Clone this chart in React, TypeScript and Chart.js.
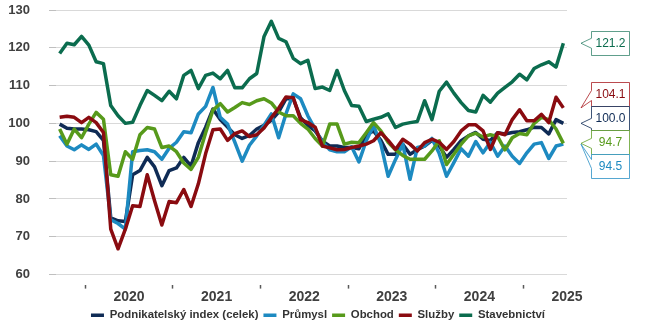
import { useEffect, useRef } from 'react';
import { Chart, registerables } from 'chart.js';

Chart.register(...registerables);

const months = [
  '2019-09', '2019-10', '2019-11', '2019-12',
  '2020-01', '2020-02', '2020-03', '2020-04', '2020-05', '2020-06', '2020-07', '2020-08', '2020-09', '2020-10', '2020-11', '2020-12',
  '2021-01', '2021-02', '2021-03', '2021-04', '2021-05', '2021-06', '2021-07', '2021-08', '2021-09', '2021-10', '2021-11', '2021-12',
  '2022-01', '2022-02', '2022-03', '2022-04', '2022-05', '2022-06', '2022-07', '2022-08', '2022-09', '2022-10', '2022-11', '2022-12',
  '2023-01', '2023-02', '2023-03', '2023-04', '2023-05', '2023-06', '2023-07', '2023-08', '2023-09', '2023-10', '2023-11', '2023-12',
  '2024-01', '2024-02', '2024-03', '2024-04', '2024-05', '2024-06', '2024-07', '2024-08', '2024-09', '2024-10', '2024-11', '2024-12',
  '2025-01', '2025-02', '2025-03', '2025-04', '2025-05', '2025-06',
];

const yearLabels = ['2020', '2021', '2022', '2023', '2024', '2025'];
const yTickValues = [60, 70, 80, 90, 100, 110, 120, 130];

const podnikatelsky = [
  99.8, 98.7, 98.5, 98.5,
  98.3, 97.8, 95.5, 75.0, 74.2, 74.0, 86.4, 87.5, 91.0, 88.5, 83.5, 87.5,
  88.2, 91.0, 88.7, 94.9, 99.0, 103.8, 101.0, 99.0, 97.0, 96.0, 96.8, 98.5,
  99.5, 100.8, 103.0, 106.5, 106.5, 101.5, 99.5, 98.0, 95.3, 94.0, 94.0, 93.6,
  93.6, 93.3, 97.0, 98.0, 95.5, 91.8, 91.8, 94.5, 91.8, 93.0, 94.0, 95.5,
  94.0, 91.0, 93.1, 95.4, 96.7, 97.6, 95.8, 95.5, 97.5, 97.2, 97.6, 97.8,
  98.3, 99.0, 98.9, 97.2, 101.0, 100.0,
];

const prumysl = [
  96.7, 94.0, 93.0, 94.3,
  93.1, 94.5, 91.5, 74.5, 73.5, 72.0, 92.5, 92.8, 93.0, 92.5, 90.5, 93.4,
  95.0, 97.8, 97.5, 102.5, 104.5, 109.5, 101.6, 99.8, 95.0, 90.0, 94.2, 96.7,
  99.5, 102.5, 96.2, 102.5, 107.8, 106.5, 102.0, 98.5, 95.0, 93.0, 92.5, 92.5,
  93.8, 89.8, 95.4, 99.4, 94.5, 86.0, 90.4, 94.5, 85.2, 93.6, 94.0, 96.0,
  92.0, 86.0, 89.6, 93.3, 91.3, 95.2, 92.2, 95.0, 91.3, 94.0, 91.3, 89.4,
  92.2, 94.5, 94.9, 90.7, 94.0, 94.5,
];

const obchod = [
  98.5, 94.5, 98.5, 96.2,
  99.8, 102.9, 101.1, 86.4, 86.0, 92.5, 90.5, 97.0, 98.9, 98.5, 93.6, 94.0,
  92.5, 89.5, 87.8, 91.0, 97.5, 103.5, 105.2, 103.0, 104.2, 105.5, 105.0, 106.0,
  106.5, 105.4, 103.0, 102.0, 102.0, 100.0, 98.5, 96.0, 94.0, 99.8, 99.8, 94.5,
  95.0, 94.9, 97.5, 100.2, 98.0, 95.0, 93.0, 91.5, 90.5, 90.5, 90.5, 92.7,
  95.4, 89.1, 91.8, 94.5, 96.7, 97.4, 96.4, 97.0, 96.5, 93.0, 96.2, 97.3,
  97.0, 100.0, 101.6, 101.0, 98.5, 94.7,
];

const sluzby = [
  101.6, 101.9, 101.6, 100.2,
  101.6, 100.2, 97.6, 72.0, 66.8, 72.0, 78.2, 78.0, 86.4, 79.5, 73.1, 79.3,
  79.0, 82.5, 78.0, 84.0, 92.0, 98.3, 98.5, 95.5, 97.3, 98.0, 96.5, 97.0,
  98.8, 101.5, 104.0, 107.0, 106.8, 101.0, 100.2, 99.0, 94.0, 93.5, 93.0, 93.1,
  93.6, 94.0, 94.5, 95.4, 97.5, 95.5, 93.1, 95.8, 94.5, 92.7, 94.9, 95.8,
  95.0, 93.1, 95.2, 98.0, 99.6, 99.6, 98.0, 93.1, 97.5, 97.0, 101.0, 103.6,
  100.7, 100.7, 102.4, 100.2, 106.9, 104.1,
];

const stavebnictvi = [
  118.5, 121.2, 120.8, 123.0,
  120.7, 116.3, 115.8, 104.7, 102.0, 100.0, 100.3, 104.7, 108.7, 107.4, 106.0, 108.5,
  106.5, 112.7, 114.0, 109.2, 112.7, 113.3, 111.8, 114.0, 109.4, 109.4, 111.8, 113.2,
  123.0, 127.0, 122.5, 121.6, 117.2, 115.8, 116.7, 109.2, 109.6, 108.7, 114.0, 108.7,
  104.7, 104.5, 100.5, 101.1, 101.6, 102.5, 98.9, 99.8, 100.2, 100.5, 106.0, 101.0,
  108.5, 110.9, 108.0, 105.5, 103.4, 103.0, 107.4, 105.6, 108.0, 109.5, 111.0, 113.0,
  111.5, 114.5, 115.5, 116.3, 114.9, 121.2,
];

const seriesNames = ['Podnikatelský index (celek)', 'Průmysl', 'Obchod', 'Služby', 'Stavebnictví'];
const seriesValues = [podnikatelsky, prumysl, obchod, sluzby, stavebnictvi];
const seriesColors = ['#0f2b55', '#1d8ac1', '#579a1b', '#8a0b10', '#0b6c4e'];
const calloutBorders = ['rgba(15,43,85,0.8)', 'rgba(29,138,193,0.75)', 'rgba(87,154,27,0.75)', 'rgba(170,30,35,0.8)', 'rgba(11,108,78,0.65)'];

const FONT = '"Liberation Sans", Arial, sans-serif';
const Y_MIN = 57.33;
const Y_MAX = 130;

const calloutPlugin = {
  id: 'lastValueCallouts',
  afterDraw(chart: any) {
    const { ctx, chartArea } = chart;
    const yScale = chart.scales.y;
    const boxW = 38;
    const boxH = 24;
    const boxL = Math.round(chartArea.right + 24) + 0.5;
    const tipX = chartArea.right + 14;
    const items = chart.data.datasets
      .map((ds: any, i: number) => {
        const v = ds.data[ds.data.length - 1] as number;
        return { v, color: seriesColors[i], border: calloutBorders[i], y: yScale.getPixelForValue(v) };
      })
      .sort((a: any, b: any) => a.y - b.y);
    const clusters: any[] = items.map((it: any) => ({ items: [it], top: it.y - boxH / 2 }));
    let merged = true;
    while (merged) {
      merged = false;
      for (let i = 0; i < clusters.length - 1; i++) {
        const a = clusters[i];
        const b = clusters[i + 1];
        if (a.top + a.items.length * boxH > b.top) {
          const all = a.items.concat(b.items);
          const mean = all.reduce((s: number, it: any) => s + it.y, 0) / all.length;
          clusters.splice(i, 2, { items: all, top: mean - (all.length * boxH) / 2 });
          merged = true;
          break;
        }
      }
    }
    ctx.save();
    clusters.forEach((c: any) =>
      c.items.forEach((it: any, k: number) => {
        const top = Math.round(c.top + k * boxH) + 0.5;
        const bottom = top + boxH;
        const L = boxL;
        const R = L + boxW;
        let b1: number;
        let b2: number;
        if (it.y < top + 7) {
          b1 = top + 5;
          b2 = top + 14;
        } else if (it.y > bottom - 7) {
          b1 = bottom - 16;
          b2 = bottom - 6;
        } else {
          b1 = it.y - 5;
          b2 = it.y + 5;
        }
        ctx.beginPath();
        ctx.moveTo(L, top);
        ctx.lineTo(R, top);
        ctx.lineTo(R, bottom);
        ctx.lineTo(L, bottom);
        ctx.lineTo(L, b2);
        ctx.lineTo(tipX, it.y);
        ctx.lineTo(L, b1);
        ctx.closePath();
        ctx.fillStyle = '#ffffff';
        ctx.fill();
        ctx.strokeStyle = it.border;
        ctx.lineWidth = 1;
        ctx.stroke();
        ctx.fillStyle = it.color;
        ctx.font = `12px ${FONT}`;
        ctx.textAlign = 'center';
        ctx.textBaseline = 'middle';
        ctx.fillText(it.v.toFixed(1), L + boxW / 2, top + boxH / 2 + 0.5);
      })
    );
    ctx.restore();
  },
};

export default function App() {
  const ref = useRef<HTMLCanvasElement>(null);

  useEffect(() => {
    const canvas = ref.current;
    if (!canvas) return;
    const yearStarts = months.map((m, i) => (m.endsWith('-01') ? i : -1)).filter((i) => i >= 0);
    const xMin = -0.5;
    const xMax = months.length - 0.5;

    const chart = new Chart(canvas, {
      type: 'line',
      data: {
        labels: months,
        datasets: seriesNames.map((name, i) => ({
          label: name,
          data: seriesValues[i],
          borderColor: seriesColors[i],
          backgroundColor: seriesColors[i],
          borderWidth: 3.5,
          pointRadius: 0,
          pointHoverRadius: 0,
          tension: 0,
          borderJoinStyle: 'round' as const,
          borderCapStyle: 'butt' as const,
          order: seriesNames.length - i,
          xAxisID: 'x',
          yAxisID: 'y',
        })),
      },
      options: {
        responsive: false,
        maintainAspectRatio: false,
        animation: false,
        devicePixelRatio: 1,
        layout: { padding: { top: 10, right: 14, bottom: -6, left: 0 } },
        font: { family: FONT },
        plugins: {
          tooltip: { enabled: false },
          legend: {
            position: 'bottom',
            labels: {
              usePointStyle: true,
              pointStyle: 'line',
              pointStyleWidth: 13,
              padding: 5,
              color: '#333333',
              font: { family: FONT, size: 11.4, weight: 'bold' },
              sort: (a: any, b: any) => a.datasetIndex - b.datasetIndex,
            },
          },
        },
        scales: {
          x: {
            type: 'category',
            display: false,
            offset: true,
          },
          xTicks: {
            type: 'linear',
            position: 'bottom',
            min: xMin,
            max: xMax,
            weight: 0,
            border: { display: false },
            grid: {
              drawOnChartArea: false,
              drawTicks: true,
              tickLength: 4,
              tickColor: '#595959',
              tickWidth: 1.5,
            },
            ticks: { display: false },
            afterBuildTicks: (s: any) => {
              s.ticks = yearStarts.map((i) => ({ value: i - 0.5 }));
            },
            afterFit: (s: any) => {
              s.height = 4;
            },
          },
          xYears: {
            type: 'linear',
            position: 'bottom',
            min: xMin,
            max: xMax,
            weight: 1,
            border: { display: false },
            grid: { display: false, drawTicks: false },
            ticks: {
              padding: 0,
              maxRotation: 0,
              autoSkip: false,
              color: '#404040',
              font: { family: FONT, size: 14, weight: 'bold' },
              callback: (_v: any, index: number) => yearLabels[index],
            },
            afterBuildTicks: (s: any) => {
              s.ticks = yearStarts.map((i) => ({ value: i + 5.5 }));
            },
            afterFit: (s: any) => {
              s.height = 16;
            },
          },
          y: {
            type: 'linear',
            position: 'left',
            min: Y_MIN,
            max: Y_MAX,
            border: { display: false },
            grid: {
              color: '#d9d9d9',
              lineWidth: 1,
              tickLength: 7,
              tickColor: '#bfbfbf',
            },
            ticks: {
              padding: 19,
              color: '#404040',
              font: { family: FONT, size: 13, weight: 'bold' },
            },
            afterBuildTicks: (s: any) => {
              s.ticks = yTickValues.map((v) => ({ value: v }));
            },
            afterFit: (s: any) => {
              s.width = 56;
              s.paddingTop = 8;
              s.paddingBottom = 0;
            },
          },
          yRight: {
            type: 'linear',
            position: 'right',
            min: 0,
            max: 1,
            border: { display: false },
            grid: { display: false, drawTicks: false },
            ticks: { display: false },
            afterFit: (s: any) => {
              s.width = 69;
              s.paddingTop = 0;
              s.paddingBottom = 0;
            },
          },
        },
      } as any,
      plugins: [calloutPlugin],
    });

    return () => chart.destroy();
  }, []);

  return (
    <div style={{ position: 'absolute', left: 0, top: 0, width: 650, height: 325, background: '#ffffff' }}>
      <canvas ref={ref} width={650} height={325} style={{ display: 'block', width: 650, height: 325 }} />
    </div>
  );
}
